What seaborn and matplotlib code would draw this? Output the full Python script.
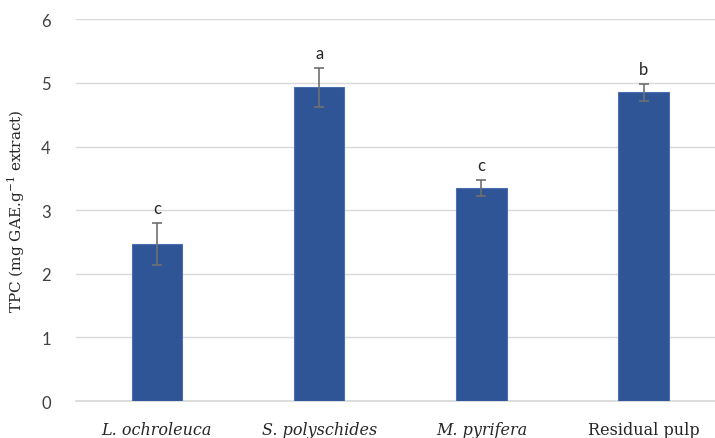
import matplotlib
matplotlib.use("Agg")
import matplotlib.pyplot as plt
import seaborn as sns
import pandas as pd

# data
samples = ["L. ochroleuca", "S. polyschides", "M. pyrifera", "Residual pulp"]
tpc_mean = [2.47, 4.93, 3.35, 4.85]
tpc_err = [0.33, 0.31, 0.13, 0.13]
letters = ["c", "a", "c", "b"]

df = pd.DataFrame({"sample": samples, "tpc": tpc_mean})

sns.set_theme(style="white")
plt.rcParams["font.family"] = ["DejaVu Serif"]

fig = plt.figure(figsize=(7.15, 4.39), dpi=100)
ax = fig.add_axes([0.106, 0.084, 0.894, 0.87])

sns.barplot(data=df, x="sample", y="tpc", color="#2F5597", width=0.31,
            saturation=1, errorbar=None, edgecolor="#4A6FB5", linewidth=0.8,
            ax=ax, zorder=3)

ax.errorbar(range(len(samples)), tpc_mean, yerr=tpc_err, fmt="none",
            ecolor="#707070", elinewidth=1.2, capsize=3.5, capthick=1.2, zorder=4)

# significance letters
for i, (m, e, l) in enumerate(zip(tpc_mean, tpc_err, letters)):
    ax.annotate(l, xy=(i, m + e), xytext=(0, 5), textcoords="offset points",
                ha="center", va="bottom", fontsize=12, color="#262626",
                family=["Lato", "DejaVu Sans"])

ax.set_ylim(0, 6)
ax.set_xlim(-0.5, 3.44)
ax.set_yticks(range(0, 7))
ax.yaxis.grid(True, color="#D9D9D9", linewidth=1)
ax.set_axisbelow(True)
for s in ["top", "right", "left"]:
    ax.spines[s].set_visible(False)
ax.spines["bottom"].set_color("#D9D9D9")

ax.set_xlabel("")
ax.set_ylabel("TPC (mg GAE.g$^{\\mathregular{-1}}$ extract)", fontsize=11,
              color="#262626", labelpad=10)
ax.tick_params(axis="y", length=0, pad=18, labelsize=12, colors="#404040")
ax.tick_params(axis="x", length=0, pad=14, labelsize=11.5, colors="#262626")
for t in ax.get_yticklabels():
    t.set_fontfamily(["Lato", "DejaVu Sans"])
for t, name in zip(ax.get_xticklabels(), samples):
    t.set_fontstyle("normal" if name == "Residual pulp" else "italic")

fig.savefig("out.png", dpi=100)
